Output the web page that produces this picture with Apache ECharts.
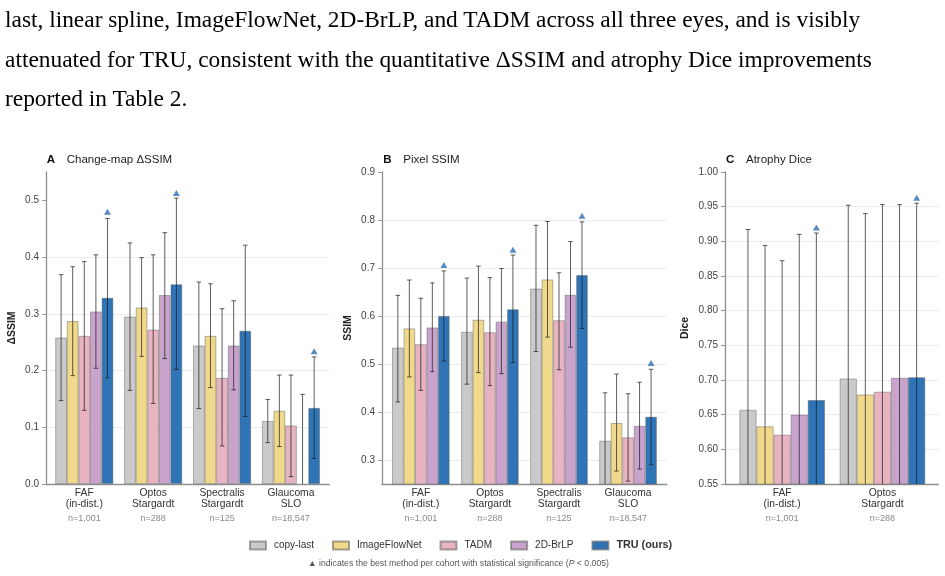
<!DOCTYPE html>
<html lang="en">
<head>
<meta charset="UTF-8">
<script src="https://cdn.jsdelivr.net/npm/echarts@6/dist/echarts.min.js"></script>
<title>Change-map SSIM / Pixel SSIM / Atrophy Dice</title>
<style>
    body { margin: 0; background: #fff; }
    #para {
        position: absolute; left: 5px; top: 0;
        font-family: 'Liberation Serif', 'Times New Roman', serif;
        font-size: 23.4px; line-height: 39.5px; color: #000; white-space: nowrap;
    }
    #main { position: absolute; left: 0; top: 0; width: 945px; height: 576px; }
</style>
</head>
<body>
<div id="main"></div>
<div id="para">last, linear spline, ImageFlowNet, 2D-BrLP, and TADM across all three eyes, and is visibly<br>attenuated for TRU, consistent with the quantitative ΔSSIM and atrophy Dice improvements<br>reported in Table 2.</div>
<script>
    // methods + colours
    const methods = ['copy-last', 'ImageFlowNet', 'TADM', '2D-BrLP', 'TRU (ours)'];
    const colors = ['#cacaca', '#f0d98b', '#e8b4c1', '#c8a3cc', '#2e74b6'];

    // A: change-map dSSIM
    const catsA = ['FAF\n(in-dist.)', 'Optos\nStargardt', 'Spectralis\nStargardt', 'Glaucoma\nSLO'];
    const nA = ['n=1,001', 'n=288', 'n=125', 'n=18,547'];
    const meanA = [
        [0.258, 0.295, 0.244, 0.111],
        [0.287, 0.311, 0.261, 0.129],
        [0.261, 0.272, 0.187, 0.103],
        [0.304, 0.333, 0.244, -0.004],
        [0.328, 0.352, 0.270, 0.134]
    ];
    const loA = [
        [0.147, 0.165, 0.133, 0.073],
        [0.191, 0.225, 0.170, 0.066],
        [0.130, 0.142, 0.067, 0.013],
        [0.204, 0.221, 0.166, -0.166],
        [0.187, 0.202, 0.119, 0.045]
    ];
    const hiA = [
        [0.369, 0.425, 0.356, 0.149],
        [0.383, 0.399, 0.353, 0.192],
        [0.392, 0.404, 0.309, 0.192],
        [0.404, 0.443, 0.323, 0.158],
        [0.468, 0.504, 0.421, 0.224]
    ];
    const sigA = [0.480, 0.513, null, 0.234];
    const ticksA = [0, 0.1, 0.2, 0.3, 0.4, 0.5];

    // B: pixel SSIM
    const catsB = catsA;
    const nB = nA;
    const meanB = [
        [0.534, 0.567, 0.657, 0.340],
        [0.574, 0.592, 0.676, 0.377],
        [0.541, 0.566, 0.591, 0.347],
        [0.576, 0.588, 0.644, 0.371],
        [0.600, 0.614, 0.685, 0.390]
    ];
    const loB = [
        [0.421, 0.458, 0.526, 0.240],
        [0.473, 0.482, 0.556, 0.277],
        [0.445, 0.455, 0.488, 0.256],
        [0.484, 0.480, 0.535, 0.281],
        [0.506, 0.503, 0.574, 0.290]
    ];
    const hiB = [
        [0.643, 0.679, 0.789, 0.440],
        [0.675, 0.704, 0.797, 0.479],
        [0.637, 0.680, 0.690, 0.438],
        [0.669, 0.699, 0.755, 0.462],
        [0.694, 0.727, 0.796, 0.489]
    ];
    const sigB = [0.706, 0.738, 0.809, 0.502];
    const ticksB = [0.3, 0.4, 0.5, 0.6, 0.7, 0.8, 0.9];

    // C: atrophy Dice
    const catsC = ['FAF\n(in-dist.)', 'Optos\nStargardt'];
    const nC = ['n=1,001', 'n=288'];
    const meanC = [
        [0.657, 0.702],
        [0.633, 0.679],
        [0.621, 0.683],
        [0.650, 0.703],
        [0.671, 0.704]
    ];
    const loC = [
        [0.397, 0.452],
        [0.372, 0.418],
        [0.370, 0.413],
        [0.390, 0.453],
        [0.430, 0.453]
    ];
    const hiC = [
        [0.917, 0.952],
        [0.894, 0.940],
        [0.872, 0.953],
        [0.910, 0.953],
        [0.912, 0.955]
    ];
    const sigC = [0.920, 0.963];
    const ticksC = [0.55, 0.60, 0.65, 0.70, 0.75, 0.80, 0.85, 0.90, 0.95, 1.00];

    const FONT = "'Liberation Sans', Arial, sans-serif";
    const TOP = 172, HEIGHT = 312;

    let panels = [
        { letter: 'A', title: 'Change-map ΔSSIM', yName: 'ΔSSIM', cats: catsA, ns: nA, mean: meanA, lo: loA, hi: hiA, sig: sigA,
          ticks: ticksA, min: 0, max: 0.55, dec: 1, frame: [46, 329.3], inner: [49.85, 325.4], bw: 11.6, nameGap: 28, titleX: 46.7 },
        { letter: 'B', title: 'Pixel SSIM', yName: 'SSIM', cats: catsB, ns: nB, mean: meanB, lo: loB, hi: hiB, sig: sigB,
          ticks: ticksB, min: 0.25, max: 0.9, dec: 1, frame: [382, 666.7], inner: [386.3, 662.6], bw: 11.5, nameGap: 28, titleX: 383.3 },
        { letter: 'C', title: 'Atrophy Dice', yName: 'Dice', cats: catsC, ns: nC, mean: meanC, lo: loC, hi: hiC, sig: sigC,
          ticks: ticksC, min: 0.55, max: 1.0, dec: 2, frame: [725, 938.3], inner: [732, 932.6], bw: 17.1, nameGap: 34, titleX: 726 }
    ];

    let grid = [], xAxis = [], yAxis = [], series = [], title = [];

    panels.forEach((p, k) => {
        let gf = k * 2, gi = k * 2 + 1;
        // frame grid: axis lines, y labels, gridlines
        grid.push({ left: p.frame[0], width: p.frame[1] - p.frame[0], top: TOP, height: HEIGHT });
        // inner grid: bars
        grid.push({ left: p.inner[0], width: p.inner[1] - p.inner[0], top: TOP, height: HEIGHT });

        xAxis.push({
            type: 'value', gridIndex: gf, min: 0, max: 1,
            axisLine: { show: true, lineStyle: { color: '#8f8f8f', width: 1.3 } },
            axisTick: { show: false }, axisLabel: { show: false }, splitLine: { show: false }
        });
        xAxis.push({
            type: 'category', gridIndex: gi, data: p.cats,
            axisLine: { show: false }, axisTick: { show: false },
            axisLabel: {
                interval: 0, margin: 4,
                formatter: (val, idx) => val.split('\n').map(s => '{c|' + s + '}').join('\n') + '\n{n|' + p.ns[idx] + '}',
                rich: {
                    c: { fontSize: 10.3, color: '#333', lineHeight: 10.7, fontFamily: FONT },
                    n: { fontSize: 9, color: '#8a8a8a', lineHeight: 18, fontFamily: FONT }
                }
            }
        });

        yAxis.push({
            type: 'value', gridIndex: gf, min: p.min, max: p.max,
            name: p.yName, nameLocation: 'middle', nameGap: p.nameGap,
            nameTextStyle: { fontSize: 10.5, fontWeight: 'bold', color: '#222', fontFamily: FONT },
            axisLine: { show: true, lineStyle: { color: '#8f8f8f', width: 1.3 } },
            axisTick: { show: true, length: 4, customValues: p.ticks, lineStyle: { color: '#9a9a9a' } },
            axisLabel: {
                customValues: p.ticks, margin: 7, fontSize: 10, color: '#444', fontFamily: FONT,
                formatter: v => v.toFixed(p.dec)
            },
            splitLine: { show: true, showMaxLine: false, lineStyle: { color: '#ececec', width: 1 } }
        });
        yAxis.push({ type: 'value', gridIndex: gi, min: p.min, max: p.max, show: false });

        methods.forEach((m, i) => {
            series.push({
                name: m, type: 'bar', xAxisIndex: gi, yAxisIndex: gi,
                barWidth: p.bw, barGap: '0%',
                itemStyle: { color: colors[i], borderColor: 'rgba(90,90,90,0.55)', borderWidth: 0.8 },
                data: p.mean[i], z: 2
            });
        });

        // error bars
        let errData = [];
        methods.forEach((m, i) => {
            p.cats.forEach((c, j) => errData.push([j, i, p.lo[i][j], p.hi[i][j]]));
        });
        series.push({
            type: 'custom', xAxisIndex: gi, yAxisIndex: gi, clip: true, silent: true, z: 3,
            encode: { x: 0, y: [2, 3] },
            data: errData,
            renderItem: (params, api) => {
                let ci = api.value(0), mi = api.value(1);
                let top = api.coord([ci, api.value(3)]);
                let bot = api.coord([ci, api.value(2)]);
                let x = top[0] + (mi - 2) * p.bw;
                let cap = 2.3;
                let st = { stroke: 'rgba(25,25,25,0.7)', lineWidth: 1 };
                return {
                    type: 'group', children: [
                        { type: 'line', shape: { x1: x, y1: top[1], x2: x, y2: bot[1] }, style: st },
                        { type: 'line', shape: { x1: x - cap, y1: top[1], x2: x + cap, y2: top[1] }, style: st },
                        { type: 'line', shape: { x1: x - cap, y1: bot[1], x2: x + cap, y2: bot[1] }, style: st }
                    ]
                };
            }
        });

        // significance triangles above TRU
        series.push({
            type: 'scatter', xAxisIndex: gi, yAxisIndex: gi, silent: true, z: 4,
            symbol: 'triangle', symbolSize: [7, 6], symbolOffset: [2 * p.bw, 0],
            itemStyle: { color: '#2e6fb0' },
            data: p.sig.map((v, j) => v == null ? null : [j, v]).filter(d => d)
        });

        title.push({
            left: p.titleX, top: 152.7, padding: 0,
            text: '{l|' + p.letter + '}{t|' + p.title + '}',
            textStyle: {
                rich: {
                    l: { fontSize: 11.5, fontWeight: 'bold', width: 20, color: '#111', fontFamily: FONT, lineHeight: 14 },
                    t: { fontSize: 11.5, fontWeight: 'normal', color: '#222', fontFamily: FONT, lineHeight: 14 }
                }
            }
        });
    });

    title.push({
        left: 308, top: 559, padding: 0,
        text: '▲ indicates the best method per cohort with statistical significance ({i|P} < 0.005)',
        textStyle: {
            fontSize: 8.7, color: '#555', fontWeight: 'normal', fontFamily: FONT,
            rich: { i: { fontSize: 8.7, fontStyle: 'italic', color: '#555', fontFamily: FONT } }
        }
    });

    let option = {
        animation: false,
        title: title,
        legend: {
            left: 249, top: 540, padding: 0,
            icon: 'rect', itemWidth: 16, itemHeight: 8, itemGap: 18,
            textStyle: { fontSize: 10, color: '#333', fontFamily: FONT, padding: [0, 0, 0, 3] },
            data: methods.map(m => m === 'TRU (ours)'
                ? { name: m, textStyle: { fontWeight: 'bold', fontSize: 10.8 } }
                : { name: m })
        },
        grid: grid,
        xAxis: xAxis,
        yAxis: yAxis,
        series: series
    };

    let myChart = echarts.init(document.getElementById('main'));
    myChart.setOption(option);
</script>
</body>
</html>
